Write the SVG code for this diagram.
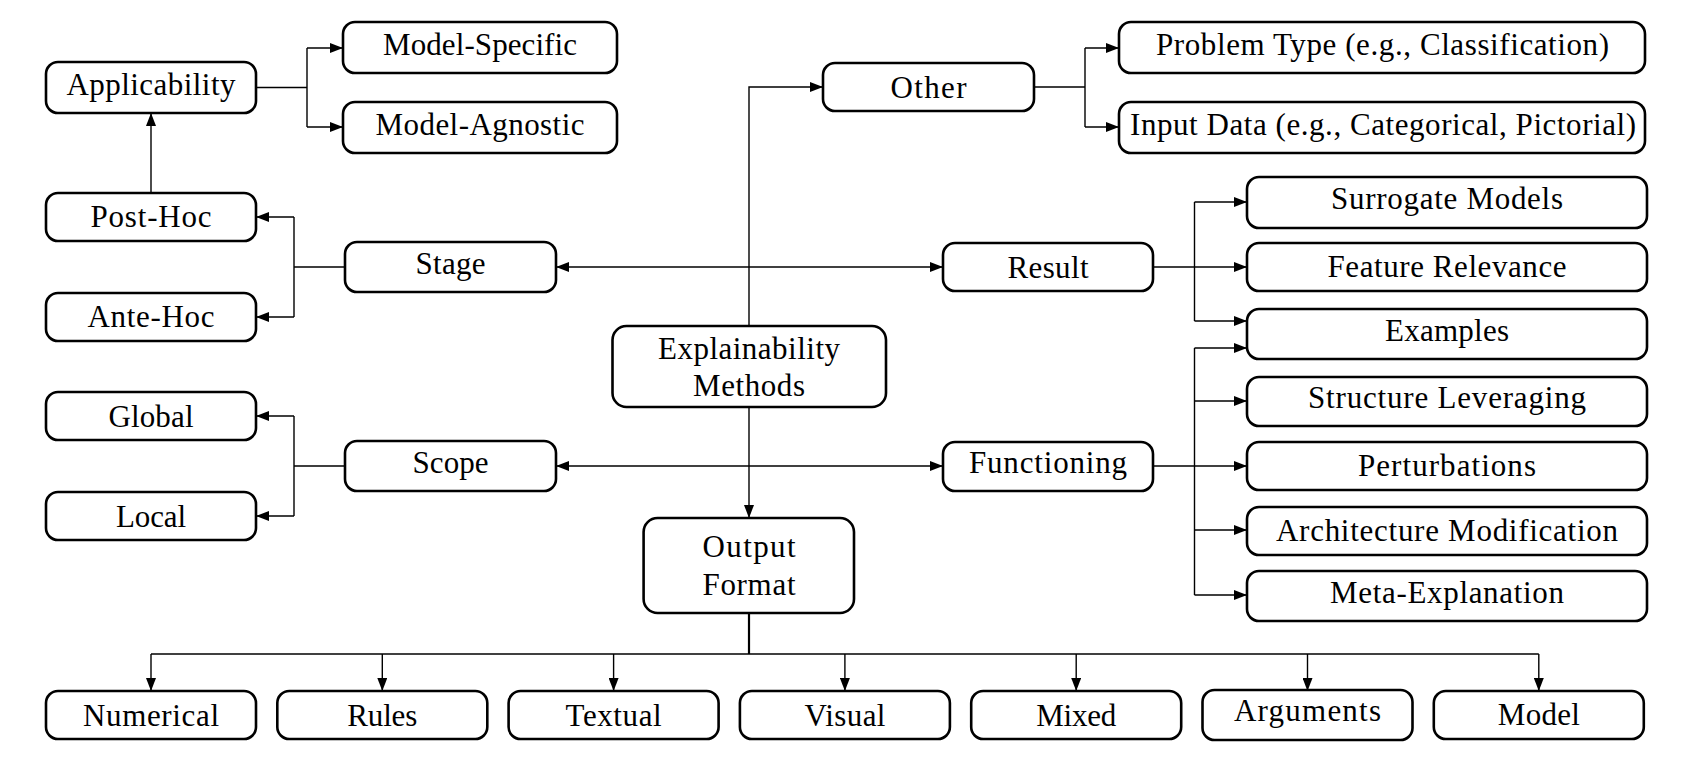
<svg xmlns="http://www.w3.org/2000/svg" width="1693" height="775" viewBox="0 0 1693 775">
<defs>
<style>
.box{fill:#fff;stroke:#000;stroke-width:2.6}
.t{font-family:"Liberation Serif","Times New Roman",serif;font-size:31px;fill:#000;text-anchor:middle}
.c{fill:none;stroke:#000;stroke-width:1.4}
.a{marker-end:url(#ah)}
</style>
<marker id="ah" markerUnits="userSpaceOnUse" markerWidth="13" markerHeight="10" refX="13" refY="5" orient="auto">
<path d="M0,0 L13,5 L0,10 z" fill="#000"/>
</marker>
</defs>
<rect width="1693" height="775" fill="#fff"/>

<g id="connectors">
<path class="c" d="M256,87.5 H307 M307,48 V127"/>
<path class="c a" d="M307,48 H343"/>
<path class="c a" d="M307,127 H343"/>
<path class="c a" d="M151,193 V113"/>
<path class="c" d="M345,267 H294 M294,217 V317"/>
<path class="c a" d="M294,217 H256"/>
<path class="c a" d="M294,317 H256"/>
<path class="c" d="M345,466 H294 M294,416 V516"/>
<path class="c a" d="M294,416 H256"/>
<path class="c a" d="M294,516 H256"/>
<path class="c a" d="M749,267 H556"/>
<path class="c a" d="M749,267 H943"/>
<path class="c a" d="M749,466 H556"/>
<path class="c a" d="M749,466 H943"/>
<path class="c a" d="M749,326 V87 H823"/>
<path class="c a" d="M749,407 V518"/>
<path class="c" d="M1034,87 H1085 M1085,48 V127"/>
<path class="c a" d="M1085,48 H1119"/>
<path class="c a" d="M1085,127 H1119"/>
<path class="c" d="M1153,267 H1194.5 M1194.5,202 V321"/>
<path class="c a" d="M1194.5,202 H1247"/>
<path class="c a" d="M1194.5,267 H1247"/>
<path class="c a" d="M1194.5,321 H1247"/>
<path class="c" d="M1153,466 H1194.5 M1194.5,348 V595"/>
<path class="c a" d="M1194.5,348 H1247"/>
<path class="c a" d="M1194.5,401 H1247"/>
<path class="c a" d="M1194.5,466 H1247"/>
<path class="c a" d="M1194.5,530 H1247"/>
<path class="c a" d="M1194.5,595 H1247"/>
<path class="c" style="stroke-width:2.2" d="M749,613 V654"/>
<path class="c" d="M151,654 H1538.8"/>
<path class="c a" d="M151,654 V691"/>
<path class="c a" d="M382.3,654 V691"/>
<path class="c a" d="M613.6,654 V691"/>
<path class="c a" d="M844.9,654 V691"/>
<path class="c a" d="M1076.2,654 V691"/>
<path class="c a" d="M1307.5,654 V691"/>
<path class="c a" d="M1538.8,654 V691"/>
</g>

<g id="applicability"><rect class="box" x="46" y="62" width="210" height="51" rx="12"/><text class="t" x="151" y="95" textLength="169" lengthAdjust="spacing">Applicability</text></g>
<g id="model-specific"><rect class="box" x="343" y="22" width="274" height="51" rx="12"/><text class="t" x="480" y="54.5" textLength="194" lengthAdjust="spacing">Model-Specific</text></g>
<g id="model-agnostic"><rect class="box" x="343" y="102" width="274" height="51" rx="12"/><text class="t" x="480" y="134.5" textLength="209" lengthAdjust="spacing">Model-Agnostic</text></g>
<g id="post-hoc"><rect class="box" x="46" y="193" width="210" height="48" rx="12"/><text class="t" x="151" y="227" textLength="121" lengthAdjust="spacing">Post-Hoc</text></g>
<g id="ante-hoc"><rect class="box" x="46" y="293" width="210" height="48" rx="12"/><text class="t" x="151" y="327" textLength="127" lengthAdjust="spacing">Ante-Hoc</text></g>
<g id="stage"><rect class="box" x="345" y="242" width="211" height="50" rx="12"/><text class="t" x="450.5" y="274" textLength="70" lengthAdjust="spacing">Stage</text></g>
<g id="global"><rect class="box" x="46" y="392" width="210" height="48" rx="12"/><text class="t" x="151" y="427" textLength="85" lengthAdjust="spacing">Global</text></g>
<g id="local"><rect class="box" x="46" y="492" width="210" height="48" rx="12"/><text class="t" x="151" y="526.5" textLength="70" lengthAdjust="spacing">Local</text></g>
<g id="scope"><rect class="box" x="345" y="441" width="211" height="50" rx="12"/><text class="t" x="450.5" y="472.5" textLength="76" lengthAdjust="spacing">Scope</text></g>
<g id="explainability-methods"><rect class="box" x="612.5" y="326" width="273.5" height="81" rx="14"/><text class="t" x="749" y="358.5" textLength="182" lengthAdjust="spacing">Explainability</text><text class="t" x="749" y="395.7" textLength="112" lengthAdjust="spacing">Methods</text></g>
<g id="other"><rect class="box" x="823" y="63" width="211" height="48" rx="12"/><text class="t" x="928.5" y="98" textLength="76" lengthAdjust="spacing">Other</text></g>
<g id="result"><rect class="box" x="943" y="243" width="210" height="48" rx="12"/><text class="t" x="1048" y="277.5" textLength="81" lengthAdjust="spacing">Result</text></g>
<g id="functioning"><rect class="box" x="943" y="442" width="210" height="49" rx="12"/><text class="t" x="1048" y="472.5" textLength="158" lengthAdjust="spacing">Functioning</text></g>
<g id="output-format"><rect class="box" x="643.6" y="518" width="210.4" height="95" rx="14"/><text class="t" x="749" y="556.7" textLength="93" lengthAdjust="spacing">Output</text><text class="t" x="749" y="595" textLength="93" lengthAdjust="spacing">Format</text></g>
<g id="problem-type"><rect class="box" x="1119" y="22" width="526" height="51" rx="12"/><text class="t" x="1382.5" y="54.5" textLength="453" lengthAdjust="spacing">Problem Type (e.g., Classification)</text></g>
<g id="input-data"><rect class="box" x="1119" y="102" width="526" height="51" rx="12"/><text class="t" x="1383" y="134.5" textLength="506" lengthAdjust="spacing">Input Data (e.g., Categorical, Pictorial)</text></g>
<g id="surrogate-models"><rect class="box" x="1247" y="177" width="400" height="51" rx="12"/><text class="t" x="1447" y="209" textLength="232" lengthAdjust="spacing">Surrogate Models</text></g>
<g id="feature-relevance"><rect class="box" x="1247" y="243" width="400" height="48" rx="12"/><text class="t" x="1447" y="277" textLength="239" lengthAdjust="spacing">Feature Relevance</text></g>
<g id="examples"><rect class="box" x="1247" y="309" width="400" height="50" rx="12"/><text class="t" x="1447" y="341" textLength="124" lengthAdjust="spacing">Examples</text></g>
<g id="structure-leveraging"><rect class="box" x="1247" y="377" width="400" height="49" rx="12"/><text class="t" x="1447" y="407.5" textLength="278" lengthAdjust="spacing">Structure Leveraging</text></g>
<g id="perturbations"><rect class="box" x="1247" y="442" width="400" height="48" rx="12"/><text class="t" x="1447" y="476" textLength="178" lengthAdjust="spacing">Perturbations</text></g>
<g id="architecture-modification"><rect class="box" x="1247" y="507" width="400" height="48" rx="12"/><text class="t" x="1447" y="541" textLength="342" lengthAdjust="spacing">Architecture Modification</text></g>
<g id="meta-explanation"><rect class="box" x="1247" y="571" width="400" height="50" rx="12"/><text class="t" x="1447" y="602.7" textLength="234" lengthAdjust="spacing">Meta-Explanation</text></g>
<g id="numerical"><rect class="box" x="46" y="691" width="210" height="48" rx="12"/><text class="t" x="151" y="725.5" textLength="136" lengthAdjust="spacing">Numerical</text></g>
<g id="rules"><rect class="box" x="277.3" y="691" width="210" height="48" rx="12"/><text class="t" x="382.3" y="725.5" textLength="70" lengthAdjust="spacing">Rules</text></g>
<g id="textual"><rect class="box" x="508.6" y="691" width="210" height="48" rx="12"/><text class="t" x="613.6" y="725.5" textLength="96" lengthAdjust="spacing">Textual</text></g>
<g id="visual"><rect class="box" x="739.9" y="691" width="210" height="48" rx="12"/><text class="t" x="844.9" y="725.5" textLength="81" lengthAdjust="spacing">Visual</text></g>
<g id="mixed"><rect class="box" x="971.2" y="691" width="210" height="48" rx="12"/><text class="t" x="1076.2" y="725.5" textLength="80" lengthAdjust="spacing">Mixed</text></g>
<g id="arguments"><rect class="box" x="1202.5" y="690" width="210" height="50" rx="12"/><text class="t" x="1307.5" y="720.7" textLength="147" lengthAdjust="spacing">Arguments</text></g>
<g id="model"><rect class="box" x="1433.8" y="691" width="210" height="48" rx="12"/><text class="t" x="1538.8" y="725" textLength="82" lengthAdjust="spacing">Model</text></g>
</svg>
